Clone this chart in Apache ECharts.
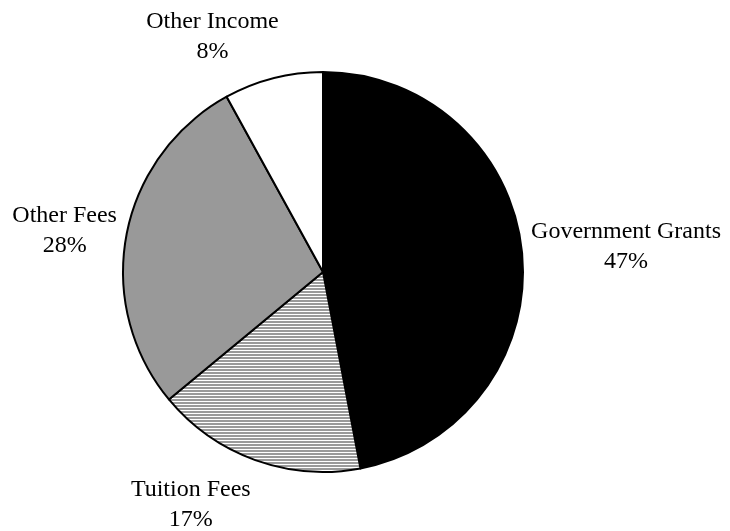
<!DOCTYPE html>
<html>
<head>
<meta charset="utf-8">
<script src="https://cdn.jsdelivr.net/npm/echarts@6/dist/echarts.min.js"></script>
<style>
html,body{margin:0;padding:0;background:#fff;}
#chart{width:730px;height:531px;}
</style>
</head>
<body>
<div id="chart"></div>
<script>
// Data
const categories = ['Government Grants', 'Tuition Fees', 'Other Fees', 'Other Income'];
const values = [47, 17, 28, 8];

// Styling (separate from data)
function stripePattern() {
  const c = document.createElement('canvas');
  c.width = 8; c.height = 3;
  const ctx = c.getContext('2d');
  ctx.fillStyle = '#ffffff';
  ctx.fillRect(0, 0, 8, 3);
  ctx.fillStyle = '#9a9a9a';
  ctx.fillRect(0, 0, 8, 2);
  return c;
}
const fills = ['#000000', { image: stripePattern(), repeat: 'repeat' }, '#999999', '#ffffff'];
// label nudges (px) relative to radial placement
const labelNudge = [[1, 3], [-46, -7], [0, 8], [-48, 8]];
const labelGap = 6;

const chart = echarts.init(document.getElementById('chart'), null, { renderer: 'canvas' });
const data = categories.map((n, i) => ({
  name: n,
  value: values[i],
  itemStyle: { color: fills[i] }
}));

chart.setOption({
  animation: false,
  backgroundColor: '#ffffff',
  series: [{
    type: 'pie',
    center: [323, 272],
    radius: 200,
    startAngle: 90,
    clockwise: true,
    data: data,
    itemStyle: { borderColor: '#000', borderWidth: 2 },
    emphasis: { disabled: true },
    label: {
      show: true,
      position: 'outside',
      formatter: p => p.name + '\n' + Math.round(p.percent) + '%',
      fontFamily: '"Liberation Serif", "Times New Roman", serif',
      fontSize: 24,
      lineHeight: 30,
      color: '#000',
      align: 'center',
      overflow: 'none',
      edgeDistance: 0
    },
    labelLine: { show: false, length: 10, length2: 0 },
    labelLayout: function (params) {
      const pts = params.labelLinePoints;
      const lr = params.labelRect;
      if (!pts) return {};
      const dx = pts[1][0] - pts[0][0], dy = pts[1][1] - pts[0][1];
      const len = Math.sqrt(dx * dx + dy * dy) || 1;
      const ux = dx / len, uy = dy / len;
      const ext = Math.abs(ux) * lr.width / 2 + Math.abs(uy) * lr.height / 2;
      const d = labelGap + ext;
      const nd = labelNudge[params.dataIndex];
      const cx = pts[0][0] + ux * d + nd[0];
      const cy = pts[0][1] + uy * d + nd[1];
      return {
        x: cx,
        y: cy,
        align: 'center',
        verticalAlign: 'middle'
      };
    }
  }]
});
</script>
</body>
</html>
